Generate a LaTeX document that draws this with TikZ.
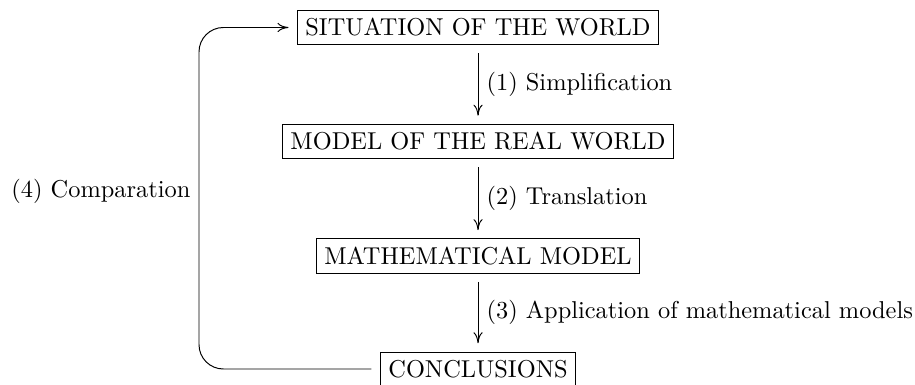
\documentclass[tikz,border=0pt]{standalone}
\usetikzlibrary{arrows.meta}

\tikzset{stage/.style={draw, outer sep=3.6pt}}
\tikzset{flow/.style={-{To[length=4.5pt,width=3.8pt]}}}

\begin{document}
\begin{tikzpicture}[x=0.41pt,y=0.41pt,yscale=-1,xscale=1]
        \useasboundingbox (0,0) rectangle (915,385);

        % Stage Nodes
        \node [stage] (situation) at (478,27.5) {SITUATION OF THE WORLD};
        \node [stage] (realmodel) at (478,141.5) {MODEL OF THE REAL WORLD};
        \node [stage] (mathmodel) at (478,256) {MATHEMATICAL MODEL};
        \node [stage] (conclusions) at (478,369) {CONCLUSIONS};

        % Corners of the loop
        \coordinate (loopbottom) at (199,369);
        \coordinate (looptop) at (199,27.5);

        %Straight Lines
        \draw [flow] (situation) -- node [right] (simplification) {(1) Simplification} (realmodel);
        %Straight Lines
        \draw [flow] (realmodel) -- node [right] (translation) {(2) Translation} (mathmodel);
        %Straight Lines
        \draw [flow] (mathmodel) -- node [right] (application) {(3) Application of mathematical models} (conclusions);
        %Curve Lines
        \draw [flow, rounded corners=10pt] (conclusions.west) -- (loopbottom) -- node [pos=0.52, left] (comparation) {(4) Comparation} (looptop) -- (situation.west);

    \end{tikzpicture}
\end{document}
